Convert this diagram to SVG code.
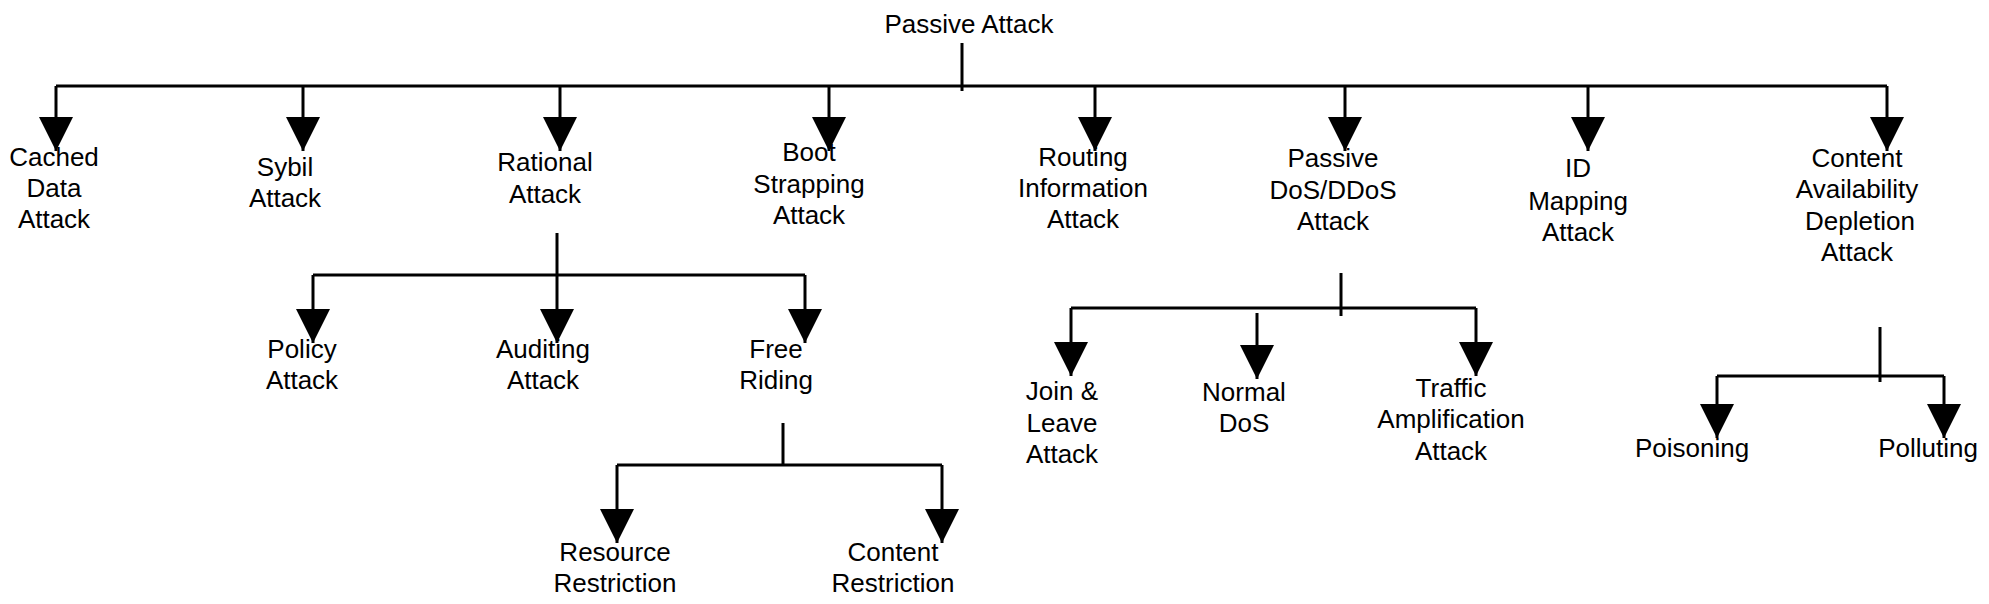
<svg xmlns="http://www.w3.org/2000/svg" width="1989" height="604" viewBox="0 0 1989 604">
<style>
text{font-family:"Liberation Sans",Arial,sans-serif;font-size:26px;fill:#000;text-anchor:middle}
.c line{stroke:#000;stroke-width:3;fill:none}
.c line.a{marker-end:url(#ah)}
</style>
<defs>
<marker id="ah" markerUnits="userSpaceOnUse" markerWidth="34" markerHeight="34" viewBox="0 0 34 34" refX="34" refY="17" orient="auto">
<path d="M0,0 L34,17 L0,34 z" fill="#000"/>
</marker>
</defs>
<rect width="1989" height="604" fill="#fff"/>
<g class="c" id="connectors">
<line x1="962" y1="43" x2="962" y2="91"/>
<line x1="56" y1="86" x2="1887" y2="86"/>
<line class="a" x1="56" y1="86" x2="56" y2="151"/>
<line class="a" x1="303" y1="86" x2="303" y2="151"/>
<line class="a" x1="560" y1="86" x2="560" y2="151"/>
<line class="a" x1="829" y1="86" x2="829" y2="151"/>
<line class="a" x1="1095" y1="86" x2="1095" y2="151"/>
<line class="a" x1="1345" y1="86" x2="1345" y2="151"/>
<line class="a" x1="1588" y1="86" x2="1588" y2="151"/>
<line class="a" x1="1887" y1="86" x2="1887" y2="151"/>
<line x1="557" y1="233" x2="557" y2="276"/>
<line x1="313" y1="275" x2="805" y2="275"/>
<line class="a" x1="313" y1="275" x2="313" y2="343"/>
<line class="a" x1="557" y1="275" x2="557" y2="343"/>
<line class="a" x1="805" y1="275" x2="805" y2="343"/>
<line x1="783" y1="423" x2="783" y2="465"/>
<line x1="617" y1="465" x2="942" y2="465"/>
<line class="a" x1="617" y1="465" x2="617" y2="543"/>
<line class="a" x1="942" y1="465" x2="942" y2="543"/>
<line x1="1341" y1="273" x2="1341" y2="316"/>
<line x1="1071" y1="308" x2="1476" y2="308"/>
<line class="a" x1="1071" y1="308" x2="1071" y2="376"/>
<line class="a" x1="1257" y1="313" x2="1257" y2="379"/>
<line class="a" x1="1476" y1="308" x2="1476" y2="376"/>
<line x1="1880" y1="327" x2="1880" y2="382"/>
<line x1="1717" y1="376" x2="1944" y2="376"/>
<line class="a" x1="1717" y1="376" x2="1717" y2="438"/>
<line class="a" x1="1944" y1="376" x2="1944" y2="438"/>
</g>
<g id="n-passive"><text x="969" y="33">Passive Attack</text></g>
<g id="n-cached"><text x="54" y="166">Cached</text><text x="54" y="197">Data</text><text x="54" y="228">Attack</text></g>
<g id="n-sybil"><text x="285" y="176">Sybil</text><text x="285" y="207">Attack</text></g>
<g id="n-rational"><text x="545" y="171">Rational</text><text x="545" y="203">Attack</text></g>
<g id="n-boot"><text x="809" y="161">Boot</text><text x="809" y="193">Strapping</text><text x="809" y="224">Attack</text></g>
<g id="n-routing"><text x="1083" y="166">Routing</text><text x="1083" y="197">Information</text><text x="1083" y="228">Attack</text></g>
<g id="n-pdos"><text x="1333" y="167">Passive</text><text x="1333" y="199">DoS/DDoS</text><text x="1333" y="230">Attack</text></g>
<g id="n-id"><text x="1578" y="177">ID</text><text x="1578" y="210">Mapping</text><text x="1578" y="241">Attack</text></g>
<g id="n-content"><text x="1857" y="167">Content</text><text x="1857" y="198">Availability</text><text x="1860" y="230">Depletion</text><text x="1857" y="261">Attack</text></g>
<g id="n-policy"><text x="302" y="358">Policy</text><text x="302" y="389">Attack</text></g>
<g id="n-auditing"><text x="543" y="358">Auditing</text><text x="543" y="389">Attack</text></g>
<g id="n-free"><text x="776" y="358">Free</text><text x="776" y="389">Riding</text></g>
<g id="n-resource"><text x="615" y="561">Resource</text><text x="615" y="592">Restriction</text></g>
<g id="n-contentr"><text x="893" y="561">Content</text><text x="893" y="592">Restriction</text></g>
<g id="n-join"><text x="1062" y="400">Join &amp;</text><text x="1062" y="432">Leave</text><text x="1062" y="463">Attack</text></g>
<g id="n-normal"><text x="1244" y="401">Normal</text><text x="1244" y="432">DoS</text></g>
<g id="n-traffic"><text x="1451" y="397">Traffic</text><text x="1451" y="428">Amplification</text><text x="1451" y="460">Attack</text></g>
<g id="n-poisoning"><text x="1692" y="457">Poisoning</text></g>
<g id="n-polluting"><text x="1928" y="457">Polluting</text></g>
</svg>
